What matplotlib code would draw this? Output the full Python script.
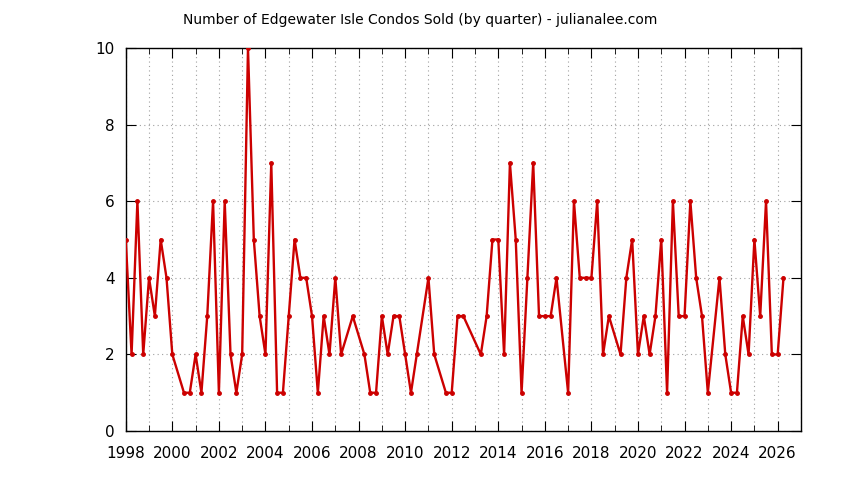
import numpy as np
import matplotlib.pyplot as plt
from matplotlib.ticker import MultipleLocator

# quarter start (decimal year) and number of condos sold
quarters = [1998.0, 1998.25, 1998.5, 1998.75,
            1999.0, 1999.25, 1999.5, 1999.75,
            2000.0, 2000.5, 2000.75,
            2001.0, 2001.25, 2001.5, 2001.75,
            2002.0, 2002.25, 2002.5, 2002.75,
            2003.0, 2003.25, 2003.5, 2003.75,
            2004.0, 2004.25, 2004.5, 2004.75,
            2005.0, 2005.25, 2005.5, 2005.75,
            2006.0, 2006.25, 2006.5, 2006.75,
            2007.0, 2007.25, 2007.75,
            2008.25, 2008.5, 2008.75,
            2009.0, 2009.25, 2009.5, 2009.75,
            2010.0, 2010.25, 2010.5,
            2011.0, 2011.25, 2011.75,
            2012.0, 2012.25, 2012.5,
            2013.25, 2013.5, 2013.75,
            2014.0, 2014.25, 2014.5, 2014.75,
            2015.0, 2015.25, 2015.5, 2015.75,
            2016.0, 2016.25, 2016.5,
            2017.0, 2017.25, 2017.5, 2017.75,
            2018.0, 2018.25, 2018.5, 2018.75,
            2019.25, 2019.5, 2019.75,
            2020.0, 2020.25, 2020.5, 2020.75,
            2021.0, 2021.25, 2021.5, 2021.75,
            2022.0, 2022.25, 2022.5, 2022.75,
            2023.0, 2023.5, 2023.75,
            2024.0, 2024.25, 2024.5, 2024.75,
            2025.0, 2025.25, 2025.5, 2025.75,
            2026.0, 2026.25]
sold = [5, 2, 6, 2,
        4, 3, 5, 4,
        2, 1, 1,
        2, 1, 3, 6,
        1, 6, 2, 1,
        2, 10, 5, 3,
        2, 7, 1, 1,
        3, 5, 4, 4,
        3, 1, 3, 2,
        4, 2, 3,
        2, 1, 1,
        3, 2, 3, 3,
        2, 1, 2,
        4, 2, 1,
        1, 3, 3,
        2, 3, 5,
        5, 2, 7, 5,
        1, 4, 7, 3,
        3, 3, 4,
        1, 6, 4, 4,
        4, 6, 2, 3,
        2, 4, 5,
        2, 3, 2, 3,
        5, 1, 6, 3,
        3, 6, 4, 3,
        1, 4, 2,
        1, 1, 3, 2,
        5, 3, 6, 2,
        2, 4]

title = 'Number of Edgewater Isle Condos Sold (by quarter) - julianalee.com'

fig = plt.figure(figsize=(8.44, 4.8), dpi=100)
ax = fig.add_axes([0.149, 0.102, 0.8, 0.798])

ax.plot(quarters, sold, color='#cc0000', linewidth=1.7,
        marker='o', markersize=2.5, zorder=3)

ax.set_xlim(1998, 2027)
ax.set_ylim(0, 10)
ax.xaxis.set_major_locator(MultipleLocator(2))
ax.xaxis.set_minor_locator(MultipleLocator(1))
ax.yaxis.set_major_locator(MultipleLocator(2))

ax.grid(True, which='both', axis='x', color='#a0a0a0', linestyle=(0, (1, 3)), linewidth=0.8)
ax.grid(True, which='major', axis='y', color='#a0a0a0', linestyle=(0, (1, 3)), linewidth=0.8)

ax.tick_params(which='both', direction='in', top=True, right=True, labelsize=11)
ax.tick_params(axis='x', pad=11)
ax.tick_params(axis='y', pad=8)
ax.tick_params(which='major', length=7)
ax.tick_params(which='minor', length=4)
for sp in ax.spines.values():
    sp.set_linewidth(1.0)

fig.text(0.498, 0.958, title, ha='center', va='center', fontsize=10)

fig.savefig('out.png', dpi=100)
plt.close(fig)
